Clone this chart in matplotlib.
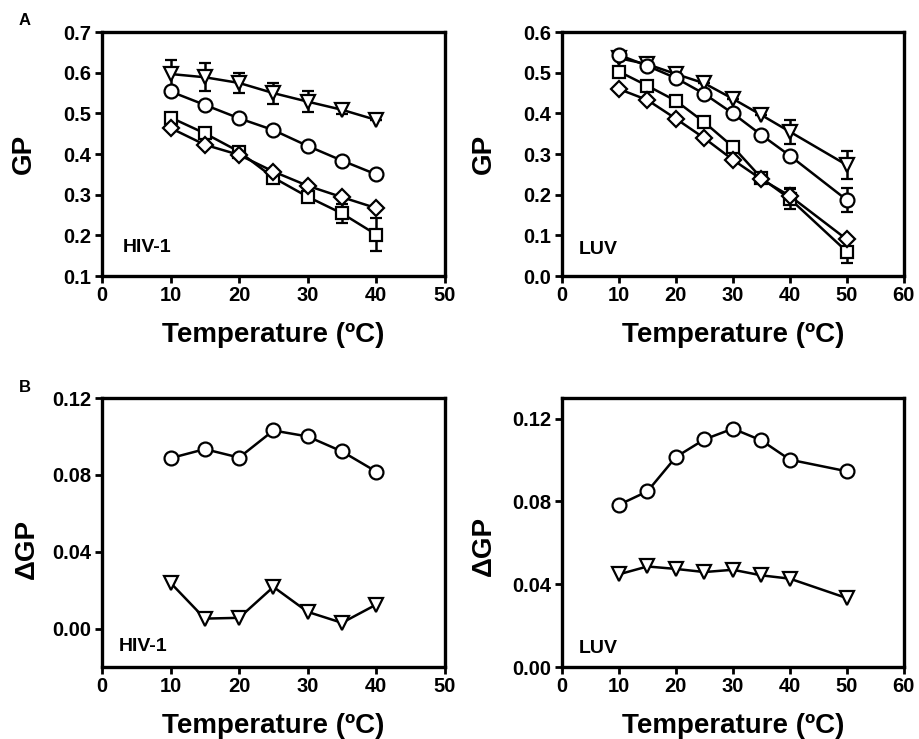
import matplotlib
matplotlib.use("Agg")
import matplotlib.pyplot as plt

plt.rcParams['font.family'] = ['Liberation Sans', 'DejaVu Sans']
plt.rcParams['font.weight'] = 'bold'

# temperatures
temp_hiv = [10, 15, 20, 25, 30, 35, 40]
temp_luv = [10, 15, 20, 25, 30, 35, 40, 50]

# GP, HIV-1
hiv_tri = [0.597, 0.589, 0.575, 0.550, 0.529, 0.509, 0.484]
hiv_tri_err = [0.034, 0.034, 0.024, 0.026, 0.026, 0.010, 0.0]
hiv_circ = [0.554, 0.521, 0.488, 0.459, 0.420, 0.384, 0.350]
hiv_sq = [0.490, 0.451, 0.406, 0.342, 0.295, 0.254, 0.202]
hiv_sq_err = [0.0, 0.0, 0.0, 0.008, 0.010, 0.024, 0.040]
hiv_dia = [0.464, 0.423, 0.398, 0.357, 0.322, 0.294, 0.267]

# GP, LUV
luv_tri = [0.536, 0.521, 0.497, 0.474, 0.436, 0.396, 0.355, 0.273]
luv_tri_err = [0.0, 0.0, 0.0, 0.0, 0.0, 0.0, 0.030, 0.035]
luv_circ = [0.544, 0.517, 0.487, 0.448, 0.400, 0.347, 0.296, 0.187]
luv_circ_err = [0.0, 0.0, 0.0, 0.0, 0.0, 0.0, 0.0, 0.030]
luv_sq = [0.503, 0.468, 0.431, 0.378, 0.318, 0.241, 0.190, 0.060]
luv_sq_err = [0.0, 0.0, 0.0, 0.0, 0.0, 0.0, 0.025, 0.027]
luv_dia = [0.460, 0.433, 0.387, 0.339, 0.286, 0.238, 0.197, 0.090]
luv_dia_err = [0.0, 0.0, 0.0, 0.0, 0.0, 0.0, 0.020, 0.0]

# delta GP
dgp_hiv_circ = [0.0887, 0.0934, 0.0890, 0.1031, 0.1000, 0.0922, 0.0817]
dgp_hiv_tri = [0.0238, 0.0052, 0.0056, 0.0217, 0.0087, 0.0030, 0.0125]
dgp_luv_circ = [0.0784, 0.0849, 0.1015, 0.1100, 0.1152, 0.1095, 0.1002, 0.0946]
dgp_luv_tri = [0.0448, 0.0486, 0.0474, 0.0459, 0.0470, 0.0443, 0.0427, 0.0333]

fig = plt.figure(figsize=(9.19, 7.39), dpi=100)
ax1 = fig.add_axes([0.111, 0.6265, 0.373, 0.330])
ax2 = fig.add_axes([0.6115, 0.6265, 0.372, 0.330])
ax3 = fig.add_axes([0.111, 0.0974, 0.373, 0.364])
ax4 = fig.add_axes([0.6115, 0.0974, 0.372, 0.364])


def series(ax, x, y, marker, ms, err=None):
    ax.errorbar(x, y, yerr=err, marker=marker, markersize=ms, color='black',
                markerfacecolor='white', markeredgecolor='black', markeredgewidth=1.6,
                linewidth=1.8, elinewidth=1.8, capsize=4.5, capthick=1.8)


def style(ax, xmax, ylabel, tag, tag_pos, ylab_pos):
    for s in ax.spines.values():
        s.set_linewidth(2.4)
    ax.tick_params(direction='out', length=5, width=2, labelsize=14.5, pad=2.5)
    for lab in ax.get_xticklabels() + ax.get_yticklabels():
        lab.set_fontweight('bold')
    ax.set_xlim(0, xmax)
    ax.set_xticks(range(0, xmax + 1, 10))
    ax.set_xlabel('Temperature (ºC)', fontsize=20, fontweight='bold', labelpad=12)
    ax.set_ylabel(ylabel, fontsize=20, fontweight='bold')
    ax.yaxis.set_label_coords(*ylab_pos)
    ax.text(tag_pos[0], tag_pos[1], tag, transform=ax.transAxes, fontsize=14,
            fontweight='bold', va='center')


series(ax1, temp_hiv, hiv_tri, 'v', 10, hiv_tri_err)
series(ax1, temp_hiv, hiv_circ, 'o', 10)
series(ax1, temp_hiv, hiv_sq, 's', 9, hiv_sq_err)
series(ax1, temp_hiv, hiv_dia, 'D', 8)
ax1.set_ylim(0.1, 0.7)
ax1.set_yticks([0.1, 0.2, 0.3, 0.4, 0.5, 0.6, 0.7])
ax1.set_yticklabels(['0.1', '0.2', '0.3', '0.4', '0.5', '0.6', '0.7'])
style(ax1, 50, 'GP', 'HIV-1', (0.06, 0.115), (-0.19, 0.5))

series(ax2, temp_luv, luv_tri, 'v', 10, luv_tri_err)
series(ax2, temp_luv, luv_circ, 'o', 10, luv_circ_err)
series(ax2, temp_luv, luv_sq, 's', 9, luv_sq_err)
series(ax2, temp_luv, luv_dia, 'D', 8, luv_dia_err)
ax2.set_ylim(0.0, 0.6)
ax2.set_yticks([0.0, 0.1, 0.2, 0.3, 0.4, 0.5, 0.6])
ax2.set_yticklabels(['0.0', '0.1', '0.2', '0.3', '0.4', '0.5', '0.6'])
style(ax2, 60, 'GP', 'LUV', (0.05, 0.11), (-0.19, 0.5))

series(ax3, temp_hiv, dgp_hiv_circ, 'o', 10)
series(ax3, temp_hiv, dgp_hiv_tri, 'v', 10)
ax3.set_ylim(-0.02, 0.12)
ax3.set_yticks([0.0, 0.04, 0.08, 0.12])
ax3.set_yticklabels(['0.00', '0.04', '0.08', '0.12'])
style(ax3, 50, 'ΔGP', 'HIV-1', (0.05, 0.075), (-0.18, 0.44))

series(ax4, temp_luv, dgp_luv_circ, 'o', 10)
series(ax4, temp_luv, dgp_luv_tri, 'v', 10)
ax4.set_ylim(0.0, 0.13)
ax4.set_yticks([0.0, 0.04, 0.08, 0.12])
ax4.set_yticklabels(['0.00', '0.04', '0.08', '0.12'])
style(ax4, 60, 'ΔGP', 'LUV', (0.05, 0.07), (-0.19, 0.45))

fig.text(0.02, 0.972, 'A', fontsize=12, fontweight='bold', ha='left', va='center')
fig.text(0.02, 0.475, 'B', fontsize=12, fontweight='bold', ha='left', va='center')

fig.savefig('out.png', dpi=100)
